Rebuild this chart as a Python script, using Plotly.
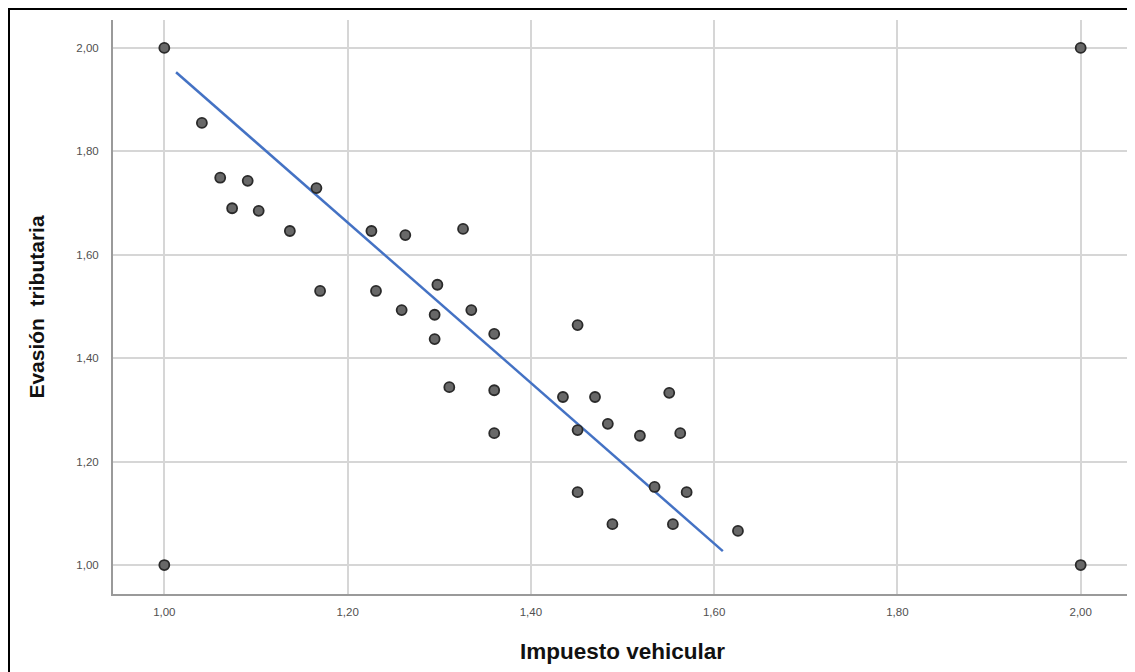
import plotly.graph_objects as go

# Data (Impuesto vehicular vs Evasión tributaria)
impuesto = [1.00, 1.00, 1.041, 1.061, 1.074, 1.091, 1.103, 1.137, 1.166, 1.170,
            1.226, 1.231, 1.263, 1.259, 1.326, 1.298, 1.335, 1.295, 1.295, 1.360,
            1.311, 1.360, 1.360, 1.451, 1.435, 1.470, 1.551, 1.451, 1.484, 1.519,
            1.563, 1.451, 1.535, 1.570, 1.489, 1.555, 1.626, 2.00, 2.00]
evasion = [2.00, 1.00, 1.855, 1.749, 1.690, 1.743, 1.685, 1.646, 1.729, 1.530,
           1.646, 1.530, 1.638, 1.493, 1.650, 1.542, 1.493, 1.484, 1.437, 1.447,
           1.344, 1.338, 1.255, 1.464, 1.325, 1.325, 1.333, 1.261, 1.273, 1.250,
           1.255, 1.141, 1.151, 1.141, 1.079, 1.079, 1.066, 2.00, 1.00]

# Fit line endpoints
fit_x = [1.0128, 1.6095]
fit_y = [1.953, 1.027]

tick_vals = [1.00, 1.20, 1.40, 1.60, 1.80, 2.00]
tick_text = ["1,00", "1,20", "1,40", "1,60", "1,80", "2,00"]

W, H = 1127, 664
L, R, T, B = 105, 3, 12, 78
PW = W - L - R
PH = H - T - B

fig = go.Figure()
fig.add_trace(go.Scatter(
    x=fit_x, y=fit_y, mode="lines",
    line=dict(color="#4472C4", width=2.5),
    showlegend=False, hoverinfo="skip"))
fig.add_trace(go.Scatter(
    x=impuesto, y=evasion, mode="markers",
    marker=dict(size=10, color="#686868", line=dict(color="#2a2a2a", width=1.8)),
    showlegend=False))

font_family = "Liberation Sans, Arial, sans-serif"

fig.update_layout(
    width=W, height=H,
    margin=dict(l=L, r=R, t=T, b=B),
    paper_bgcolor="white", plot_bgcolor="white",
    font=dict(family=font_family, color="#444444"),
    xaxis=dict(
        range=[0.944, 2.056], tickvals=tick_vals, ticktext=tick_text,
        showgrid=True, gridcolor="#d6d6d6", gridwidth=2,
        showline=True, linecolor="#9a9a9a", linewidth=2,
        zeroline=False, ticks="", ticklen=0, ticklabelstandoff=6,
        tickfont=dict(size=11.5, color="#505050", family=font_family),
        title=dict(text="<b>Impuesto vehicular</b>", standoff=26,
                   font=dict(size=22.5, color="#111111", family=font_family)),
    ),
    yaxis=dict(
        range=[0.944, 2.054], tickvals=tick_vals, ticktext=tick_text,
        showgrid=True, gridcolor="#d6d6d6", gridwidth=2,
        showline=True, linecolor="#9a9a9a", linewidth=2,
        zeroline=False, ticks="", ticklen=0, ticklabelstandoff=10,
        tickfont=dict(size=11.5, color="#505050", family=font_family),
        title=dict(text="<b>Evasión  tributaria</b>", standoff=26,
                   font=dict(size=21, color="#111111", family=font_family)),
    ),
    shapes=[dict(
        type="rect", xref="paper", yref="paper",
        x0=(1 - L) / PW, x1=(W + 10 - L) / PW,
        y0=(H - B - (H + 40)) / PH, y1=(H - B - 1) / PH,
        line=dict(color="black", width=2), fillcolor="rgba(0,0,0,0)",
        layer="above")],
)

fig.write_html("out.html")
